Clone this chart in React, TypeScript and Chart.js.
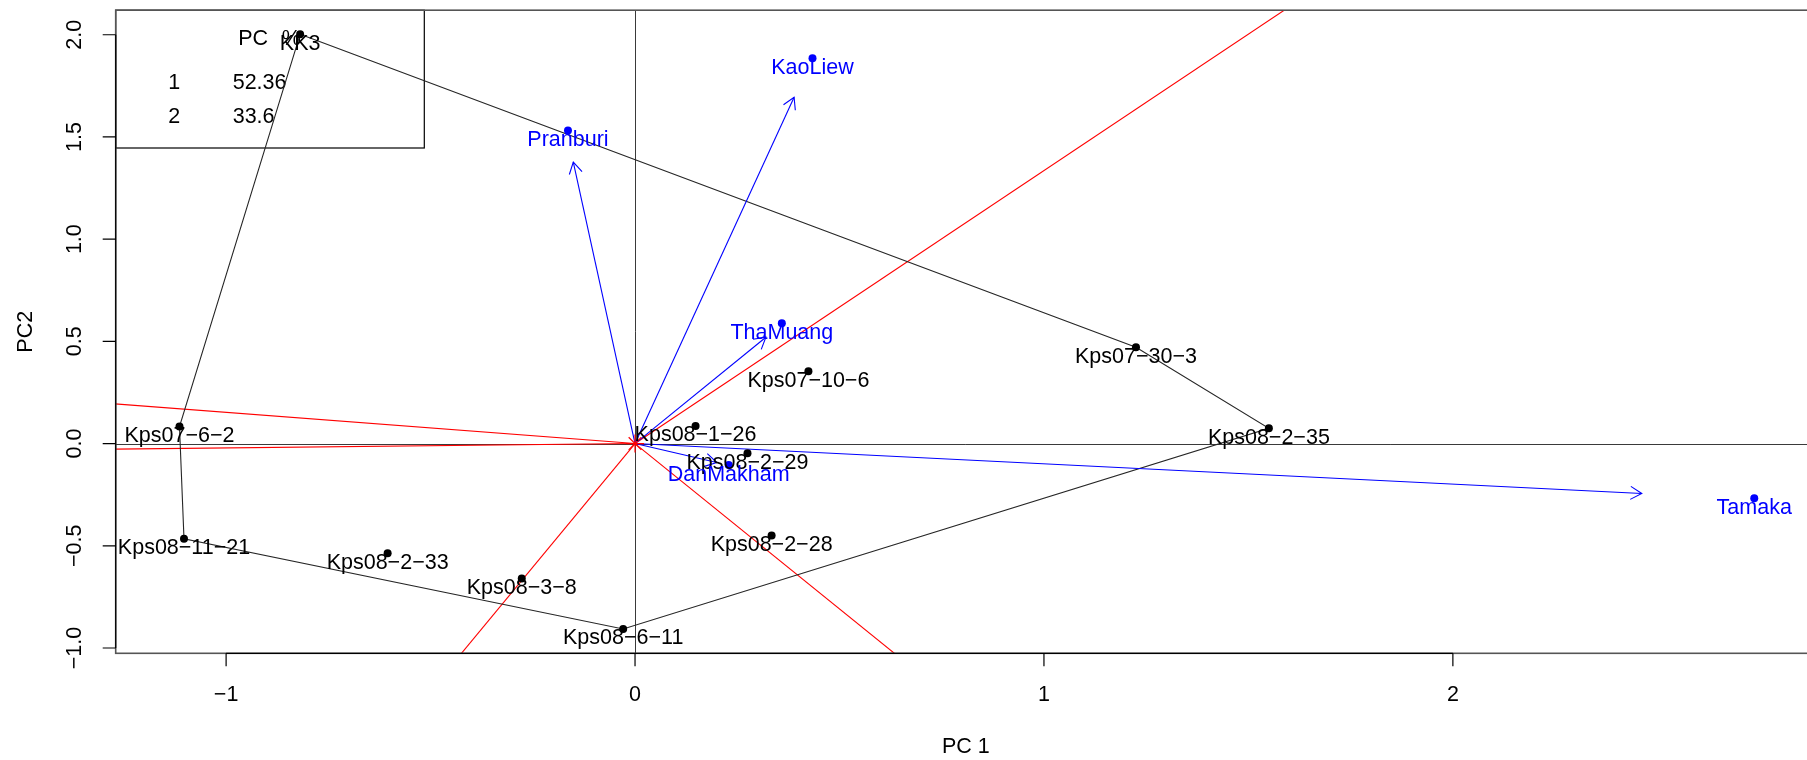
import { useEffect, useRef } from "react";
import { Chart, registerables } from "chart.js";

Chart.register(...registerables);

// ---------- data ----------
const genotypes = ["KK3", "Kps07−6−2", "Kps08−11−21", "Kps08−2−33", "Kps08−3−8", "Kps08−6−11", "Kps08−1−26", "Kps08−2−29", "Kps08−2−28", "Kps07−10−6", "Kps07−30−3", "Kps08−2−35"];
const genoPC1 = [-0.819, -1.114, -1.103, -0.605, -0.277, -0.029, 0.148, 0.275, 0.334, 0.424, 1.225, 1.55];
const genoPC2 = [2.002, 0.083, -0.466, -0.536, -0.66, -0.907, 0.086, -0.047, -0.45, 0.354, 0.471, 0.075];

const environments = ["KaoLiew", "Pranburi", "ThaMuang", "DanMakham", "Tamaka"];
const envPC1 = [0.434, -0.164, 0.359, 0.229, 2.737];
const envPC2 = [1.885, 1.531, 0.589, -0.105, -0.268];
const arrowPC1 = [0.389, -0.151, 0.32, 0.2, 2.462];
const arrowPC2 = [1.694, 1.377, 0.52, -0.093, -0.244];

const hullOrder = ["KK3", "Kps07−30−3", "Kps08−2−35", "Kps08−6−11", "Kps08−11−21", "Kps07−6−2", "KK3"];

const rayPC1 = [1.7, 0.68, -0.455, -1.35, -1.35];
const rayPC2 = [2.27, -1.1, -1.1, 0.206, -0.029];

const originPC1 = [0];
const originPC2 = [0];

const xTicks = [-1, 0, 1, 2];
const xTickLabels = ["−1", "0", "1", "2"];
const yTicks = [-1, -0.5, 0, 0.5, 1, 1.5, 2];
const yTickLabels = ["−1.0", "−0.5", "0.0", "0.5", "1.0", "1.5", "2.0"];

const legendHeader = ["PC", "%"];
const legendPC = ["1", "2"];
const legendPct = ["52.36", "33.6"];

const xTitle = "PC 1";
const yTitle = "PC2";

// ---------- layout / style ----------
const CW = 1830;
const CH = 760;
const FONT_FAMILY = '"Liberation Sans", Arial, Helvetica, sans-serif';
const FS = 21.5;
const HALF_CAP = 7.7;
const BLUE = "#0000ff";
const RED = "#ff0000";

export default function App() {
  const ref = useRef<HTMLCanvasElement>(null);

  useEffect(() => {
    const canvas = ref.current;
    if (!canvas) return;
    const font = (s: number) => `${s}px ${FONT_FAMILY}`;

    const pt = (xs: number[], ys: number[]) => xs.map((x, i) => ({ x, y: ys[i] }));
    const idx = (name: string) => genotypes.indexOf(name);

    const datasets: any[] = [];

    datasets.push({
      label: "genotypes",
      data: pt(genoPC1, genoPC2),
      pointRadius: 4,
      pointBackgroundColor: "#000",
      pointBorderWidth: 0,
      showLine: false,
      order: 1,
    });
    datasets.push({
      label: "environments",
      data: pt(envPC1, envPC2),
      pointRadius: 4,
      pointBackgroundColor: BLUE,
      pointBorderWidth: 0,
      showLine: false,
      order: 1,
    });
    datasets.push({
      label: "origin",
      data: pt(originPC1, originPC2),
      pointStyle: "star",
      pointRadius: 9,
      pointBorderColor: RED,
      pointBorderWidth: 1.2,
      showLine: false,
      order: 2,
    });
    datasets.push({
      label: "hull",
      data: hullOrder.map((n) => ({ x: genoPC1[idx(n)], y: genoPC2[idx(n)] })),
      showLine: true,
      borderColor: "#262626",
      borderWidth: 1.1,
      pointRadius: 0,
      fill: false,
      tension: 0,
      order: 4,
    });
    environments.forEach((_, i) => {
      datasets.push({
        label: "arrow" + i,
        data: [
          { x: originPC1[0], y: originPC2[0] },
          { x: arrowPC1[i], y: arrowPC2[i] },
        ],
        showLine: true,
        borderColor: BLUE,
        borderWidth: 1.1,
        pointRadius: 0,
        fill: false,
        order: 3,
      });
    });
    rayPC1.forEach((_, i) => {
      datasets.push({
        label: "ray" + i,
        data: [
          { x: originPC1[0], y: originPC2[0] },
          { x: rayPC1[i], y: rayPC2[i] },
        ],
        showLine: true,
        borderColor: RED,
        borderWidth: 1.1,
        pointRadius: 0,
        fill: false,
        order: 5,
      });
    });

    const overlay = {
      id: "rOverlay",
      beforeDatasetsDraw(chart: any) {
        const { ctx, chartArea: a, scales } = chart;
        const xs = scales.x;
        const ys = scales.y;
        ctx.save();
        ctx.strokeStyle = "#3a3a3a";
        ctx.lineWidth = 1;
        const x0 = Math.round(xs.getPixelForValue(0)) + 0.5;
        const y0 = Math.round(ys.getPixelForValue(0)) + 0.5;
        ctx.beginPath();
        ctx.moveTo(x0, a.top);
        ctx.lineTo(x0, a.bottom);
        ctx.moveTo(a.left, y0);
        ctx.lineTo(a.right, y0);
        ctx.stroke();

        // legend box (top-left)
        const lx = a.left;
        const ly = a.top;
        const lw = 308.6;
        const lh = 137.8;
        ctx.fillStyle = "#fff";
        ctx.fillRect(lx, ly, lw, lh);
        ctx.strokeStyle = "#000";
        ctx.lineWidth = 1.2;
        ctx.strokeRect(lx, ly, lw, lh);
        ctx.fillStyle = "#000";
        ctx.font = font(FS);
        ctx.textBaseline = "alphabetic";
        ctx.textAlign = "center";
        ctx.fillText(legendHeader[0], lx + 137.5, ly + 27.2 + HALF_CAP);
        ctx.fillText(legendHeader[1], lx + 175.5, ly + 27.2 + HALF_CAP);
        legendPC.forEach((p, i) => {
          const by = ly + 71 + i * 34 + HALF_CAP;
          ctx.textAlign = "center";
          ctx.fillText(p, lx + 58.5, by);
          ctx.textAlign = "left";
          ctx.fillText(legendPct[i], lx + 117, by);
        });
        ctx.restore();
      },
      afterDatasetsDraw(chart: any) {
        const { ctx, chartArea: a, scales } = chart;
        const xs = scales.x;
        const ys = scales.y;
        ctx.save();

        // arrow heads
        ctx.strokeStyle = BLUE;
        ctx.lineWidth = 1.1;
        const ox = xs.getPixelForValue(originPC1[0]);
        const oy = ys.getPixelForValue(originPC2[0]);
        environments.forEach((_, i) => {
          const tx = xs.getPixelForValue(arrowPC1[i]);
          const ty = ys.getPixelForValue(arrowPC2[i]);
          const ang = Math.atan2(ty - oy, tx - ox);
          const L = 13;
          const h = Math.PI / 6;
          ctx.beginPath();
          ctx.moveTo(tx - L * Math.cos(ang - h), ty - L * Math.sin(ang - h));
          ctx.lineTo(tx, ty);
          ctx.lineTo(tx - L * Math.cos(ang + h), ty - L * Math.sin(ang + h));
          ctx.stroke();
        });

        // point labels
        ctx.font = font(FS);
        ctx.textAlign = "center";
        ctx.textBaseline = "alphabetic";
        ctx.fillStyle = "#000";
        genotypes.forEach((g, i) => {
          ctx.fillText(g, xs.getPixelForValue(genoPC1[i]), ys.getPixelForValue(genoPC2[i]) + 7.8 + HALF_CAP);
        });
        ctx.fillStyle = BLUE;
        environments.forEach((e, i) => {
          ctx.fillText(e, xs.getPixelForValue(envPC1[i]), ys.getPixelForValue(envPC2[i]) + 7.8 + HALF_CAP);
        });

        // plot box
        ctx.strokeStyle = "#555";
        ctx.lineWidth = 1.6;
        ctx.strokeRect(a.left, a.top, a.right - a.left, a.bottom - a.top);

        // axes
        ctx.strokeStyle = "#000";
        ctx.lineWidth = 1.2;
        const tick = 13;
        ctx.beginPath();
        ctx.moveTo(xs.getPixelForValue(xTicks[0]), a.bottom);
        ctx.lineTo(xs.getPixelForValue(xTicks[xTicks.length - 1]), a.bottom);
        xTicks.forEach((v) => {
          const px = xs.getPixelForValue(v);
          ctx.moveTo(px, a.bottom);
          ctx.lineTo(px, a.bottom + tick);
        });
        ctx.moveTo(a.left, ys.getPixelForValue(yTicks[0]));
        ctx.lineTo(a.left, ys.getPixelForValue(yTicks[yTicks.length - 1]));
        yTicks.forEach((v) => {
          const py = ys.getPixelForValue(v);
          ctx.moveTo(a.left, py);
          ctx.lineTo(a.left - tick, py);
        });
        ctx.stroke();

        // tick labels
        ctx.fillStyle = "#000";
        ctx.font = font(FS);
        ctx.textAlign = "center";
        ctx.textBaseline = "alphabetic";
        xTicks.forEach((v, i) => {
          ctx.fillText(xTickLabels[i], xs.getPixelForValue(v), a.bottom + 40 + HALF_CAP);
        });
        yTicks.forEach((v, i) => {
          ctx.save();
          ctx.translate(a.left - 42 + HALF_CAP, ys.getPixelForValue(v));
          ctx.rotate(-Math.PI / 2);
          ctx.fillText(yTickLabels[i], 0, 0);
          ctx.restore();
        });

        // axis titles
        const cx = (a.left + a.right) / 2;
        const cy = (a.top + a.bottom) / 2;
        ctx.fillText(xTitle, cx, a.bottom + 92 + HALF_CAP);
        ctx.save();
        ctx.translate(a.left - 91 + HALF_CAP, cy);
        ctx.rotate(-Math.PI / 2);
        ctx.fillText(yTitle, 0, 0);
        ctx.restore();

        ctx.restore();
      },
    };

    const chart = new Chart(canvas, {
      type: "scatter",
      data: { datasets },
      options: {
        animation: false,
        responsive: false,
        devicePixelRatio: 1,
        events: [],
        layout: { padding: { left: 115.7, top: 7.5, right: CW - 1816, bottom: CH - 653.3 } },
        scales: {
          x: { type: "linear", min: -1.27, max: 2.888, display: false, bounds: "data" },
          y: { type: "linear", min: -1.026, max: 2.12, display: false, bounds: "data" },
        },
        plugins: {
          legend: { display: false },
          tooltip: { enabled: false },
        },
      },
      plugins: [overlay],
    } as any);

    return () => chart.destroy();
  }, []);

  return (
    <div
      style={{
        position: "fixed",
        left: 0,
        top: 0,
        width: 1807,
        height: 760,
        overflow: "hidden",
        background: "#fff",
      }}
    >
      <canvas ref={ref} width={CW} height={CH} style={{ display: "block" }} />
    </div>
  );
}
